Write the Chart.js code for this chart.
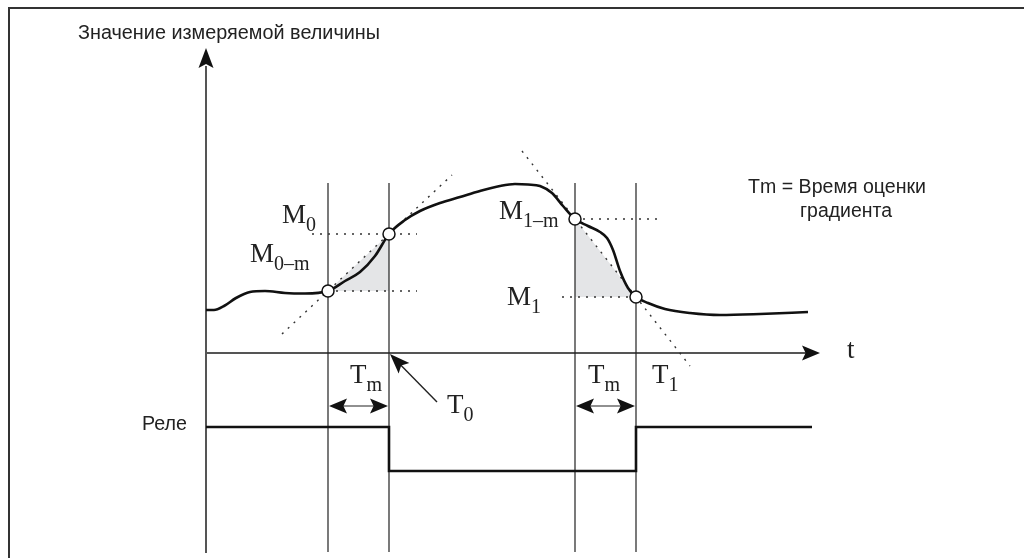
<!DOCTYPE html>
<html>
<head>
<meta charset="utf-8">
<script src="https://cdn.jsdelivr.net/npm/chart.js@4.4.1/dist/chart.umd.min.js"></script>
<style>
  html, body { margin: 0; padding: 0; background: #fff; }
  #wrap { width: 1024px; height: 558px; }
</style>
</head>
<body>
<div id="wrap"><canvas id="chart"></canvas></div>
<script>
const curveT = [206, 214, 224, 236, 250, 265, 285, 305, 328, 345, 360, 375, 389, 405, 420, 440, 460, 480, 500, 515, 528, 540, 552, 563, 575, 588, 600, 607, 613, 620, 628, 636, 648, 665, 690, 720, 760, 808];
const curveV = [310, 310, 306, 298, 292, 291, 293, 293.5, 291, 281, 272, 256, 234, 220, 211, 203, 197, 191, 186, 184, 184.5, 186, 193, 206, 219, 226, 232, 238, 250, 271, 288, 297, 303, 309, 313, 315, 314, 312];

// relay state
const relayT = [206, 389, 389, 636, 636, 812];
const relayV = [427, 427, 471, 471, 427, 427];

// sampling instants: M0-m, M0, M1-m, M1
const markT = [328, 389, 575, 636];
const markV = [291, 234, 219, 297];

// tangent (gradient) lines
const tangent0T = [282, 452];
const tangent0V = [334, 175];
const tangent1T = [522, 690];
const tangent1V = [151, 366];

// level lines
const levelY = [234, 291, 219, 297];
const levelFrom = [312, 328, 575, 562];
const levelTo = [417, 417, 663, 640];

// grid limits
const axisT0 = 206, axisTEnd = 806, axisV0 = 353;
const vLineTop = 183, vLineBottom = 552;

const line = (xs, ys) => xs.map((x, i) => ({ x: x, y: ys[i] }));

const datasets = [];

// circles on top
datasets.push({
  data: line(markT, markV), showLine: false, pointRadius: 6,
  pointBackgroundColor: '#fff', pointBorderColor: '#111', pointBorderWidth: 1.5, order: 0
});
datasets.push({
  data: line(curveT, curveV), borderColor: '#111', borderWidth: 2.6,
  cubicInterpolationMode: 'monotone', order: 1
});
datasets.push({
  data: line(relayT, relayV), borderColor: '#111', borderWidth: 2.6, order: 1
});
markT.forEach(t => datasets.push({
  data: line([t, t], [vLineTop, vLineBottom]), borderColor: '#222', borderWidth: 1.2, order: 3
}));
datasets.push({
  data: line([axisT0, axisT0], [vLineBottom + 1, 66]), borderColor: '#555', borderWidth: 2, order: 3
});
datasets.push({
  data: line([axisT0, axisTEnd], [axisV0, axisV0]), borderColor: '#555', borderWidth: 2, order: 3
});
[[tangent0T, tangent0V], [tangent1T, tangent1V]].forEach(d => datasets.push({
  data: line(d[0], d[1]), borderColor: '#333', borderWidth: 1.4, borderDash: [2, 6], order: 2
}));
levelY.forEach((y, i) => datasets.push({
  data: line([levelFrom[i], levelTo[i]], [y, y]), borderColor: '#333', borderWidth: 1.4, borderDash: [2, 6], order: 2
}));
// shaded gradient triangles
datasets.push({
  data: line([markT[0], markT[1], markT[1], markT[0]], [markV[0], markV[1], markV[0], markV[0]]),
  borderWidth: 0, borderColor: 'rgba(0,0,0,0)', backgroundColor: '#e4e5e7', fill: 'shape', order: 5
});
datasets.push({
  data: line([markT[2], markT[3], markT[2], markT[2]], [markV[2], markV[3], markV[3], markV[2]]),
  borderWidth: 0, borderColor: 'rgba(0,0,0,0)', backgroundColor: '#e4e5e7', fill: 'shape', order: 5
});
// frame
datasets.push({
  data: line([9, 9, 1024], [558, 8, 8]), borderColor: '#333', borderWidth: 2, order: 6
});
datasets.forEach((d, i) => {
  d.clip = false;
  if (i > 0) { d.showLine = true; d.pointRadius = 0; }
});

const serifLabels = [
  { main: 'M', sub: '0', x: 282, y: 223 },
  { main: 'M', sub: '0\u2013m', x: 250, y: 262 },
  { main: 'M', sub: '1\u2013m', x: 499, y: 219 },
  { main: 'M', sub: '1', x: 507, y: 305 },
  { main: 'T', sub: 'm', x: 350, y: 383 },
  { main: 'T', sub: 'm', x: 588, y: 383 },
  { main: 'T', sub: '0', x: 447, y: 413 },
  { main: 'T', sub: '1', x: 652, y: 383 },
  { main: 't', sub: '', x: 847, y: 358 }
];

function head(ctx, tx, ty, angle, len, half) {
  ctx.save();
  ctx.translate(tx, ty);
  ctx.rotate(angle);
  ctx.beginPath();
  ctx.moveTo(0, 0);
  ctx.lineTo(-len, -half);
  ctx.lineTo(-len * 0.8, 0);
  ctx.lineTo(-len, half);
  ctx.closePath();
  ctx.fill();
  ctx.restore();
}

const decor = {
  id: 'decor',
  afterDatasetsDraw(chart) {
    const ctx = chart.ctx;
    const sx = v => chart.scales.x.getPixelForValue(v);
    const sy = v => chart.scales.y.getPixelForValue(v);
    ctx.save();
    ctx.fillStyle = '#111';
    ctx.strokeStyle = '#222';
    // axis arrow heads
    head(ctx, sx(axisT0), sy(48), -Math.PI / 2, 20, 7.5);
    head(ctx, sx(820), sy(axisV0), 0, 18, 7.5);
    // Tm double arrows
    [[markT[0], markT[1]], [markT[2], markT[3]]].forEach(p => {
      const y = sy(406);
      ctx.lineWidth = 1.2;
      ctx.beginPath();
      ctx.moveTo(sx(p[0]) + 10, y);
      ctx.lineTo(sx(p[1]) - 10, y);
      ctx.stroke();
      head(ctx, sx(p[1]) - 1, y, 0, 18, 7.5);
      head(ctx, sx(p[0]) + 1, y, Math.PI, 18, 7.5);
    });
    // T0 pointer
    const x0 = sx(437), y0 = sy(402), x1 = sx(390), y1 = sy(354);
    const ang = Math.atan2(y1 - y0, x1 - x0);
    ctx.lineWidth = 1.4;
    ctx.beginPath();
    ctx.moveTo(x0, y0);
    ctx.lineTo(x1 - Math.cos(ang) * 10, y1 - Math.sin(ang) * 10);
    ctx.stroke();
    head(ctx, x1, y1, ang, 20, 7.5);

    // serif labels
    ctx.fillStyle = '#222';
    ctx.textBaseline = 'alphabetic';
    serifLabels.forEach(l => {
      ctx.font = '27px "Liberation Serif", serif';
      const x = sx(l.x), y = sy(l.y);
      ctx.fillText(l.main, x, y);
      const w = ctx.measureText(l.main).width;
      if (l.sub) {
        ctx.font = '20px "Liberation Serif", serif';
        ctx.fillText(l.sub, x + w, y + 8);
      }
    });

    // sans labels
    ctx.font = '20px "Liberation Sans", Arial, sans-serif';
    ctx.textAlign = 'left';
    ctx.fillText('Значение измеряемой величины', sx(78), sy(39), 302);
    ctx.fillText('Реле', sx(142), sy(430), 45);
    ctx.textAlign = 'center';
    ctx.fillText('Tm = Время оценки', sx(837), sy(193), 178);
    ctx.fillText('градиента', sx(846), sy(217), 92);
    ctx.restore();
  }
};

new Chart(document.getElementById('chart'), {
  type: 'scatter',
  data: { datasets: datasets },
  options: {
    responsive: true,
    maintainAspectRatio: false,
    animation: false,
    layout: { padding: 0, autoPadding: false },
    scales: {
      x: { type: 'linear', min: 0, max: 1024, display: false },
      y: { type: 'linear', min: 0, max: 558, reverse: true, display: false }
    },
    plugins: { legend: { display: false }, tooltip: { enabled: false } }
  },
  plugins: [decor]
});
</script>
</body>
</html>
